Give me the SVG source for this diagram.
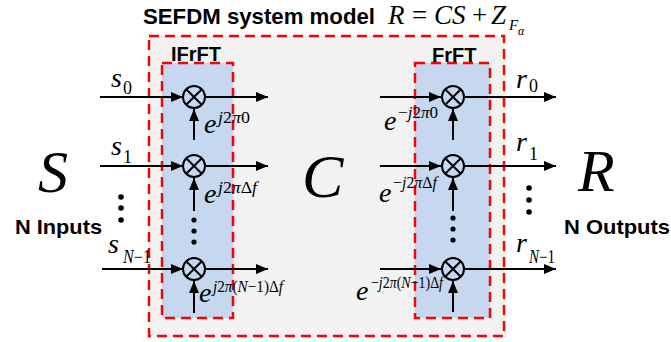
<svg xmlns="http://www.w3.org/2000/svg" width="671" height="342" viewBox="0 0 671 342">
<defs>
<marker id="ah" viewBox="0 0 12 10" refX="12" refY="5" markerWidth="12" markerHeight="10" markerUnits="userSpaceOnUse" orient="auto">
<path d="M0,0 L12,5 L0,10 Z" fill="#000"/>
</marker>
</defs>
<style>
.box{fill:#f2f2f2;stroke:#ff0000;stroke-width:2.5;stroke-dasharray:10 6}
.blue{fill:#c5d8ef;stroke:#ff0000;stroke-width:2.5;stroke-dasharray:10 6}
.ln{stroke:#000;stroke-width:2;fill:none}
.arr{stroke:#000;stroke-width:2;fill:none;marker-end:url(#ah)}
.mul{stroke:#000;stroke-width:2;fill:none}
.bold{font-family:"Liberation Sans",Arial,sans-serif;font-weight:bold;fill:#000}
.m{font-family:"Liberation Serif","Times New Roman",serif;font-style:italic;fill:#000}
.u{font-style:normal}
.dot{fill:#000}
</style>
<rect width="671" height="342" fill="#fff"/>

<g id="system">
<rect class="box" x="149" y="36" width="355" height="300"/>
</g>
<g id="title">
<text class="bold" x="143" y="24" font-size="22" textLength="232" lengthAdjust="spacingAndGlyphs">SEFDM system model</text>
<text class="m" font-size="27"><tspan x="388" y="24">R</tspan><tspan class="u" x="412" y="24">=</tspan><tspan x="434" y="24">CS</tspan><tspan class="u" x="472" y="24">+</tspan><tspan x="491" y="24">Z</tspan></text>
<text class="m" font-size="15" x="509" y="30">F</text>
<text class="m" font-size="12" x="518" y="35">α</text>
</g>

<g id="ifrft">
<rect class="blue" x="162" y="63" width="71" height="255"/>
<text class="bold" x="171" y="61" font-size="20">IFrFT</text>
</g>
<g id="frft">
<rect class="blue" x="415" y="63" width="75" height="255"/>
<text class="bold" x="432" y="62" font-size="20">FrFT</text>
</g>

<g id="connectors">
<line class="arr" x1="100" y1="97" x2="183" y2="97"/>
<line class="arr" x1="100" y1="166" x2="183" y2="166"/>
<line class="arr" x1="102" y1="269" x2="183" y2="269"/>
<line class="arr" x1="206" y1="97" x2="268" y2="97"/>
<line class="arr" x1="206" y1="166" x2="268" y2="166"/>
<line class="arr" x1="206" y1="269" x2="268" y2="269"/>
<line class="arr" x1="194" y1="140" x2="194" y2="109"/>
<line class="arr" x1="194" y1="211" x2="194" y2="178"/>
<line class="arr" x1="194" y1="313" x2="194" y2="281"/>
<line class="arr" x1="380" y1="97" x2="441" y2="97"/>
<line class="arr" x1="380" y1="166" x2="441" y2="166"/>
<line class="arr" x1="380" y1="269" x2="441" y2="269"/>
<line class="arr" x1="465" y1="97" x2="556" y2="97"/>
<line class="arr" x1="465" y1="166" x2="556" y2="166"/>
<line class="arr" x1="465" y1="269" x2="556" y2="269"/>
<line class="arr" x1="453" y1="140" x2="453" y2="109"/>
<line class="arr" x1="453" y1="211" x2="453" y2="178"/>
<line class="arr" x1="453" y1="312" x2="453" y2="281"/>
</g>

<g id="mul-l0"><circle class="mul" cx="194" cy="97" r="11"/><path class="ln" d="M186.2,89.2 L201.8,104.8 M201.8,89.2 L186.2,104.8"/></g>
<g id="mul-l1"><circle class="mul" cx="194" cy="166" r="11"/><path class="ln" d="M186.2,158.2 L201.8,173.8 M201.8,158.2 L186.2,173.8"/></g>
<g id="mul-l2"><circle class="mul" cx="194" cy="269" r="11"/><path class="ln" d="M186.2,261.2 L201.8,276.8 M201.8,261.2 L186.2,276.8"/></g>
<g id="mul-r0"><circle class="mul" cx="453" cy="97" r="11"/><path class="ln" d="M445.2,89.2 L460.8,104.8 M460.8,89.2 L445.2,104.8"/></g>
<g id="mul-r1"><circle class="mul" cx="453" cy="166" r="11"/><path class="ln" d="M445.2,158.2 L460.8,173.8 M460.8,158.2 L445.2,173.8"/></g>
<g id="mul-r2"><circle class="mul" cx="453" cy="269" r="11"/><path class="ln" d="M445.2,261.2 L460.8,276.8 M460.8,261.2 L445.2,276.8"/></g>

<g id="dots">
<circle class="dot" cx="194" cy="220" r="2.6"/><circle class="dot" cx="194" cy="231" r="2.6"/><circle class="dot" cx="194" cy="242" r="2.6"/>
<circle class="dot" cx="453" cy="218" r="2.6"/><circle class="dot" cx="453" cy="229" r="2.6"/><circle class="dot" cx="453" cy="240" r="2.6"/>
<circle class="dot" cx="121" cy="197" r="2.8"/><circle class="dot" cx="121" cy="208" r="2.8"/><circle class="dot" cx="121" cy="220" r="2.8"/>
<circle class="dot" cx="529" cy="188" r="2.8"/><circle class="dot" cx="529" cy="200" r="2.8"/><circle class="dot" cx="529" cy="212" r="2.8"/>
</g>

<g id="inputs">
<text class="m" x="38" y="192" font-size="60">S</text>
<text class="bold" x="15" y="234" font-size="21" textLength="87" lengthAdjust="spacingAndGlyphs">N Inputs</text>
<text class="m" x="111" y="87" font-size="28">s</text><text class="m u" x="123" y="94" font-size="18">0</text>
<text class="m" x="111" y="155" font-size="28">s</text><text class="m u" x="123" y="163" font-size="18">1</text>
<text class="m" x="108" y="253" font-size="28">s</text><text class="m" x="123" y="263" font-size="18" textLength="28" lengthAdjust="spacingAndGlyphs">N<tspan class="u">−1</tspan></text>
</g>

<g id="channel">
<text class="m" x="302" y="197" font-size="62">C</text>
</g>

<g id="outputs">
<text class="m" x="578" y="191" font-size="60">R</text>
<text class="bold" x="564" y="234" font-size="21" textLength="106" lengthAdjust="spacingAndGlyphs">N Outputs</text>
<text class="m" x="516" y="88" font-size="28">r</text><text class="m u" x="529" y="92" font-size="18">0</text>
<text class="m" x="516" y="151" font-size="28">r</text><text class="m u" x="529" y="160" font-size="18">1</text>
<text class="m" x="516" y="252" font-size="28">r</text><text class="m" x="529" y="263" font-size="18" textLength="26" lengthAdjust="spacingAndGlyphs">N<tspan class="u">−1</tspan></text>
</g>

<g id="exp-left">
<text class="m" x="204" y="133" font-size="28">e</text>
<text class="m" x="218" y="123" font-size="17" textLength="32" lengthAdjust="spacingAndGlyphs">j<tspan class="u">2</tspan>π<tspan class="u">0</tspan></text>
<text class="m" x="204" y="203" font-size="28">e</text>
<text class="m" x="218" y="193" font-size="17" textLength="39" lengthAdjust="spacingAndGlyphs">j<tspan class="u">2</tspan>π<tspan class="u">Δ</tspan>f</text>
<text class="m" x="199" y="302" font-size="28">e</text>
<text class="m" x="213" y="292" font-size="16" textLength="70" lengthAdjust="spacingAndGlyphs">j<tspan class="u">2</tspan>π<tspan class="u">(</tspan>N<tspan class="u">−1)Δ</tspan>f</text>
</g>

<g id="exp-right">
<text class="m" x="384" y="130" font-size="28">e</text>
<text class="m" x="398" y="118" font-size="17" textLength="40" lengthAdjust="spacingAndGlyphs"><tspan class="u">−</tspan>j<tspan class="u">2</tspan>π<tspan class="u">0</tspan></text>
<text class="m" x="379" y="202" font-size="28">e</text>
<text class="m" x="393" y="188" font-size="17" textLength="44" lengthAdjust="spacingAndGlyphs"><tspan class="u">−</tspan>j<tspan class="u">2</tspan>π<tspan class="u">Δ</tspan>f</text>
<text class="m" x="356" y="300" font-size="28">e</text>
<text class="m" x="371" y="288" font-size="16" textLength="72" lengthAdjust="spacingAndGlyphs"><tspan class="u">−</tspan>j<tspan class="u">2</tspan>π<tspan class="u">(</tspan>N<tspan class="u">−1)Δ</tspan>f</text>
</g>
</svg>
